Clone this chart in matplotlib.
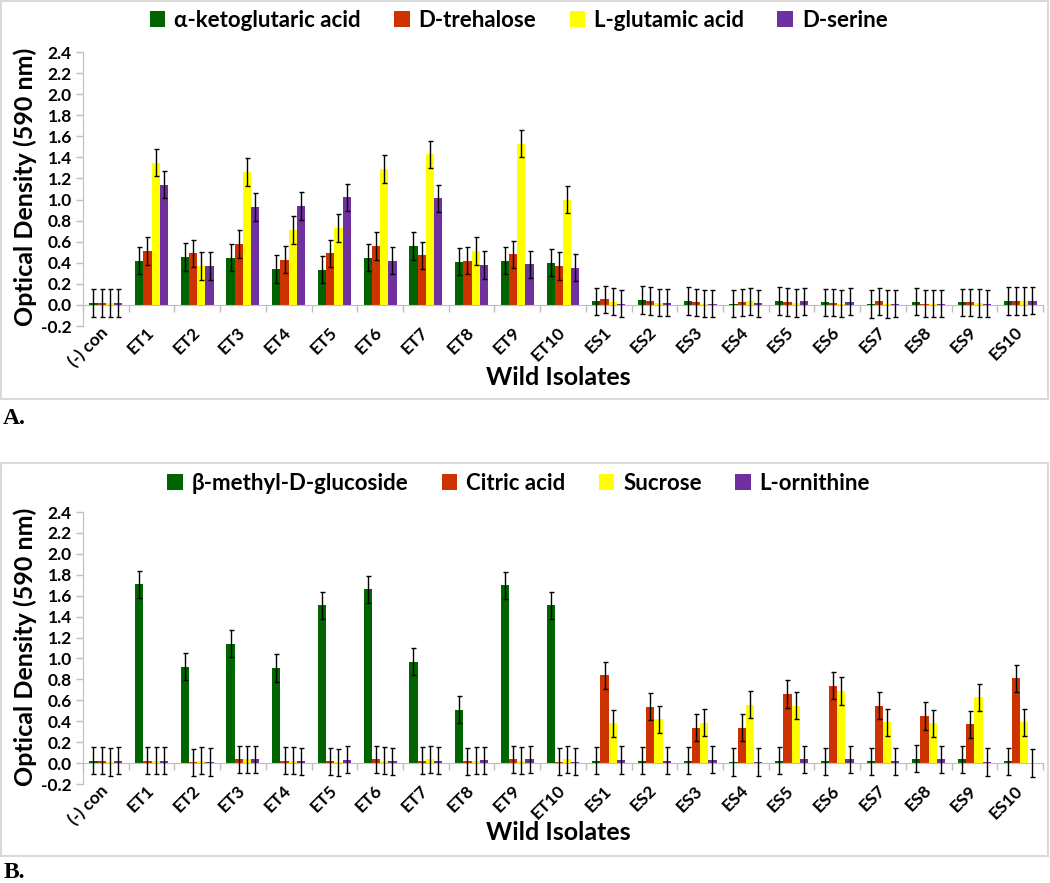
import matplotlib
matplotlib.use("Agg")
import matplotlib.pyplot as plt
from matplotlib.patches import Rectangle
import numpy as np

plt.rcParams['font.family'] = ['Lato', 'DejaVu Sans']
plt.rcParams['font.weight'] = 'bold'

categories = ['(-) con', 'ET1', 'ET2', 'ET3', 'ET4', 'ET5', 'ET6', 'ET7', 'ET8', 'ET9', 'ET10',
              'ES1', 'ES2', 'ES3', 'ES4', 'ES5', 'ES6', 'ES7', 'ES8', 'ES9', 'ES10']

# Panel A
a_names = ['α-ketoglutaric acid', 'D-trehalose', 'L-glutamic acid', 'D-serine']
a_keto = [0.02, 0.42, 0.455, 0.45, 0.34, 0.335, 0.45, 0.56, 0.41, 0.42, 0.40,
          0.035, 0.047, 0.038, 0.013, 0.038, 0.025, 0.01, 0.032, 0.025, 0.038]
a_treh = [0.02, 0.51, 0.49, 0.58, 0.43, 0.49, 0.56, 0.47, 0.42, 0.48, 0.37,
          0.054, 0.038, 0.025, 0.025, 0.028, 0.022, 0.035, 0.013, 0.025, 0.038]
a_glu = [0.02, 1.35, 0.37, 1.26, 0.71, 0.73, 1.29, 1.43, 0.51, 1.53, 1.00,
         0.03, 0.022, 0.013, 0.035, 0.019, 0.013, 0.01, 0.013, 0.019, 0.038]
a_ser = [0.02, 1.14, 0.37, 0.93, 0.94, 1.02, 0.42, 1.01, 0.38, 0.385, 0.355,
         0.013, 0.022, 0.013, 0.016, 0.035, 0.032, 0.013, 0.013, 0.013, 0.04]
a_err = [0.13] * 21

# Panel B
b_names = ['β-methyl-D-glucoside', 'Citric acid', 'Sucrose', 'L-ornithine']
b_meth = [0.022, 1.71, 0.92, 1.14, 0.91, 1.51, 1.66, 0.97, 0.51, 1.70, 1.51,
          0.022, 0.022, 0.022, 0.01, 0.022, 0.016, 0.016, 0.041, 0.035, 0.016]
b_cit = [0.022, 0.022, 0.006, 0.035, 0.022, 0.016, 0.035, 0.022, 0.016, 0.035, 0.013,
         0.84, 0.54, 0.34, 0.34, 0.66, 0.74, 0.55, 0.45, 0.37, 0.81]
b_suc = [0.01, 0.022, 0.022, 0.035, 0.022, 0.006, 0.022, 0.038, 0.022, 0.022, 0.035,
         0.38, 0.42, 0.385, 0.56, 0.55, 0.69, 0.39, 0.38, 0.63, 0.39]
b_orn = [0.022, 0.022, 0.01, 0.035, 0.016, 0.032, 0.016, 0.022, 0.025, 0.035, 0.013,
         0.029, 0.022, 0.032, 0.01, 0.035, 0.038, 0.016, 0.035, 0.01, 0.0]
b_err = [0.13] * 21

colors = ['#006400', '#CC3300', '#FFFF00', '#7030A0']
yticks = [-0.2, 0.0, 0.2, 0.4, 0.6, 0.8, 1.0, 1.2, 1.4, 1.6, 1.8, 2.0, 2.2, 2.4]

fig = plt.figure(figsize=(10.5, 8.83), dpi=100)

def draw_panel(rect, series, names, err, legend_y, ylab_y, xlab_y):
    ax = fig.add_axes(rect)
    x = np.arange(len(categories))
    w = 0.18
    handles = []
    for i, (vals, name, c) in enumerate(zip(series, names, colors)):
        offs = (i - 1.5) * w
        b = ax.bar(x + offs, vals, w, color=c, label=name, zorder=2)
        ax.errorbar(x + offs, vals, yerr=err, fmt='none', ecolor='black',
                    elinewidth=1.0, capsize=1.8, capthick=1.0, zorder=3)
        handles.append(b)
    ax.set_xlim(-0.5, len(categories) - 0.5)
    ax.set_ylim(-0.2, 2.4)
    ax.set_yticks(yticks)
    ax.set_yticklabels([f'{t:.1f}' for t in yticks], fontsize=12.5, fontweight='bold')
    for s in ['top', 'right']:
        ax.spines[s].set_visible(False)
    ax.spines['left'].set_color('#BFBFBF')
    ax.spines['bottom'].set_position(('data', 0))
    ax.spines['bottom'].set_color('#BFBFBF')
    ax.tick_params(axis='y', colors='#BFBFBF', labelcolor='black', length=5, width=1, pad=3)
    ax.set_xticks(x)
    ax.set_xticks(np.arange(-0.5, len(categories), 1.0), minor=True)
    ax.tick_params(axis='x', which='major', length=0, pad=18, labelsize=12.5)
    ax.tick_params(axis='x', which='minor', length=5, color='#BFBFBF', width=1)
    ax.set_xticklabels(categories, fontweight='bold')
    plt.setp(ax.get_xticklabels(), rotation=45, ha='right', va='center',
             rotation_mode='anchor')
    fig.legend(handles=handles, labels=names, loc='center',
               bbox_to_anchor=(0.494, legend_y), ncol=4, frameon=False,
               prop={'size': 16, 'weight': 'bold'}, handlelength=0.7,
               handleheight=0.7, handletextpad=0.4, columnspacing=1.5)
    fig.text(0.024, ylab_y, 'Optical Density (590 nm)', rotation=90,
             ha='center', va='center', fontsize=18, fontweight='bold')
    fig.text(0.532, xlab_y, 'Wild Isolates', ha='center', va='center',
             fontsize=18, fontweight='bold')
    return ax

draw_panel([0.0790, 0.6308, 0.9143, 0.3103], [a_keto, a_treh, a_glu, a_ser],
           a_names, a_err, 0.977, 0.788, 0.573)
draw_panel([0.0790, 0.1121, 0.9143, 0.3080], [b_meth, b_cit, b_suc, b_orn],
           b_names, b_err, 0.453, 0.267, 0.057)

# panel borders
fig.patches.append(Rectangle((0.001, 1 - 399 / 883), 1047 / 1050, 398 / 883,
                             transform=fig.transFigure, fill=False,
                             edgecolor='#D9D9D9', lw=1.5, zorder=0))
fig.patches.append(Rectangle((0.001, 1 - 856 / 883), 1047 / 1050, 393 / 883,
                             transform=fig.transFigure, fill=False,
                             edgecolor='#D9D9D9', lw=1.5, zorder=0))

fig.text(0.003, 1 - 419 / 883, 'A.', fontsize=17, fontweight='bold',
         family=['Liberation Serif'], ha='left', va='center')
fig.text(0.003, 1 - 873 / 883, 'B.', fontsize=17, fontweight='bold',
         family=['Liberation Serif'], ha='left', va='center')

fig.savefig('out.png', dpi=100)
